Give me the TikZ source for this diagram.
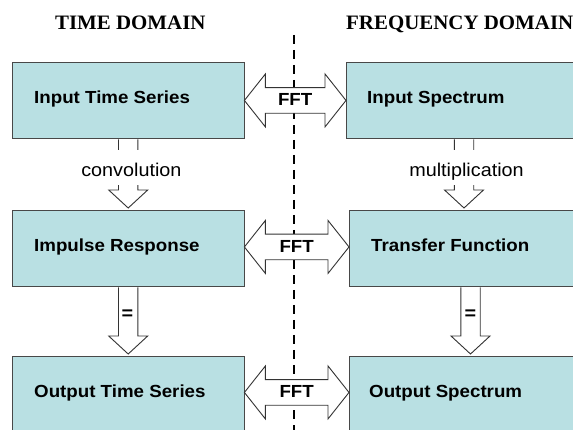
\documentclass[tikz,border=0pt]{standalone}
\usepackage{fontspec}
\usepackage{graphicx}
\setmainfont{Liberation Sans}
\newfontfamily\headfont{Liberation Serif}
\usetikzlibrary{calc}
\definecolor{boxfill}{RGB}{185,224,227}
\definecolor{boxline}{RGB}{72,72,72}
\newcommand\sx[1]{\scalebox{1.07}[1]{#1}}
% double block arrow between two points (same row)
\newcommand\fftarrow[2]{%
  \draw[blk] let \p1=(#1), \p2=(#2) in
    (\x1,\y1) -- (\x1+21pt,\y1+26.5pt) -- (\x1+21pt,\y1+12.8pt) -- (\x2-21pt,\y1+12.8pt)
    -- (\x2-21pt,\y1+26.5pt) -- (\x2,\y1) -- (\x2-21pt,\y1-26.5pt) -- (\x2-21pt,\y1-12.8pt)
    -- (\x1+21pt,\y1-12.8pt) -- (\x1+21pt,\y1-26.5pt) -- cycle;}
% downward block arrow
\newcommand\blkdown[2]{%
  \draw[blk] let \p1=(#1), \p2=(#2) in
    (\x1-9.7pt,\y1-0.5pt) -- (\x1-9.7pt,\y2+18pt) -- (\x1-19.5pt,\y2+18pt) -- (\x1,\y2)
    -- (\x1+19.5pt,\y2+18pt) -- (\x1+9.7pt,\y2+18pt) -- (\x1+9.7pt,\y1-0.5pt);}
\tikzset{
  box/.style={draw=boxline, fill=boxfill, line width=0.9pt, minimum width=231.5pt,
    minimum height=76pt, inner sep=0pt, anchor=north west},
  lbl/.style={inner sep=0pt, font=\fontsize{17.5}{20}\selectfont\bfseries},
  head/.style={inner sep=0pt, font=\fontsize{20.5}{24}\selectfont\headfont\bfseries},
  oplbl/.style={fill=white, inner sep=0pt, text height=26.5pt, text depth=8.5pt,
    font=\fontsize{18.5}{22}\selectfont, anchor=base},
  eqlbl/.style={inner sep=0pt, font=\fontsize{18.5}{22}\selectfont\bfseries},
  blk/.style={draw=black!80, fill=white, line width=0.9pt, line join=miter},
  divider/.style={draw=black, line width=1.8pt, dash pattern=on 9.3pt off 5.7pt}
}
\begin{document}
\begin{tikzpicture}[x=1pt,y=-1pt]
\useasboundingbox (0,0) rectangle (573,430);
\clip (0,0) rectangle (573,430);
\fill[white] (0,0) rectangle (573,430);

% headers
\node[head, anchor=base] (hT) at (130.3,30) {\scalebox{1.02}[1]{TIME DOMAIN}};
\node[head, anchor=base west] (hF) at (346,30) {\scalebox{1.02}[1]{FREQUENCY DOMAIN}};

% divider
\coordinate (dtop) at (294,35);
\coordinate (dbot) at (294,440);
\draw[divider] (dtop) -- (dbot);

% boxes
\node[box] (L1) at (12,62) {};
\node[box] (R1) at (346,62) {};
\node[box] (L2) at (12,210) {};
\node[box] (R2) at (349,210) {};
\node[box, minimum height=78pt] (L3) at (12,356) {};
\node[box, minimum height=78pt] (R3) at (349,356) {};

% box texts
\node[lbl, anchor=base west] (tL1) at ($(L1.west)+(22,3.3)$) {\sx{Input Time Series}};
\node[lbl, anchor=base west] (tR1) at ($(R1.west)+(21,3.3)$) {\sx{Input Spectrum}};
\node[lbl, anchor=base west] (tL2) at ($(L2.west)+(22,3)$) {\sx{Impulse Response}};
\node[lbl, anchor=base west] (tR2) at ($(R2.west)+(22,3)$) {\sx{Transfer Function}};
\node[lbl, anchor=base west] (tL3) at ($(L3.west)+(22,2)$) {\sx{Output Time Series}};
\node[lbl, anchor=base west] (tR3) at ($(R3.west)+(20,2)$) {\sx{Output Spectrum}};

% FFT arrows
\coordinate (a1s) at (L1.east);
\coordinate (a1e) at (R1.west);
\coordinate (a2s) at ($(L2.east)+(0,-1.5)$);
\coordinate (a2e) at ($(R2.west)+(0,-1.5)$);
\coordinate (a3s) at ($(L3.east)+(0,-3)$);
\coordinate (a3e) at ($(R3.west)+(0,-3)$);
\fftarrow{a1s}{a1e}
\fftarrow{a2s}{a2e}
\fftarrow{a3s}{a3e}
\node[lbl, anchor=base, yshift=-5.5pt] (f1) at ($(a1s)!0.5!(a1e)$) {\sx{FFT}};
\node[lbl, anchor=base, yshift=-5.5pt] (f2) at ($(a2s)!0.5!(a2e)$) {\sx{FFT}};
\node[lbl, anchor=base, yshift=-5.5pt] (f3) at ($(a3s)!0.5!(a3e)$) {\sx{FFT}};

% down arrows
\coordinate (c1s) at (L1.south);
\coordinate (c1e) at ($(L2.north)+(0,-2)$);
\coordinate (m1s) at ($(R1.south west)+(118,0)$);
\coordinate (m1e) at ($(R2.north west)+(115,-2)$);
\coordinate (e1s) at (L2.south);
\coordinate (e1e) at ($(L3.north)+(0,-2)$);
\coordinate (e2s) at ($(R2.south west)+(121.5,0)$);
\coordinate (e2e) at ($(R3.north west)+(121.5,-2)$);
\blkdown{c1s}{c1e}
\blkdown{m1s}{m1e}
\blkdown{e1s}{e1e}
\blkdown{e2s}{e2e}

\node[oplbl] (conv) at (131.4,176.5) {\sx{convolution}};
\node[oplbl] (mult) at (466.5,176.5) {\sx{multiplication}};
\node[eqlbl] (eq1) at (127.5,315) {\sx{=}};
\node[eqlbl] (eq2) at (470.5,315) {\sx{=}};
\end{tikzpicture}
\end{document}
